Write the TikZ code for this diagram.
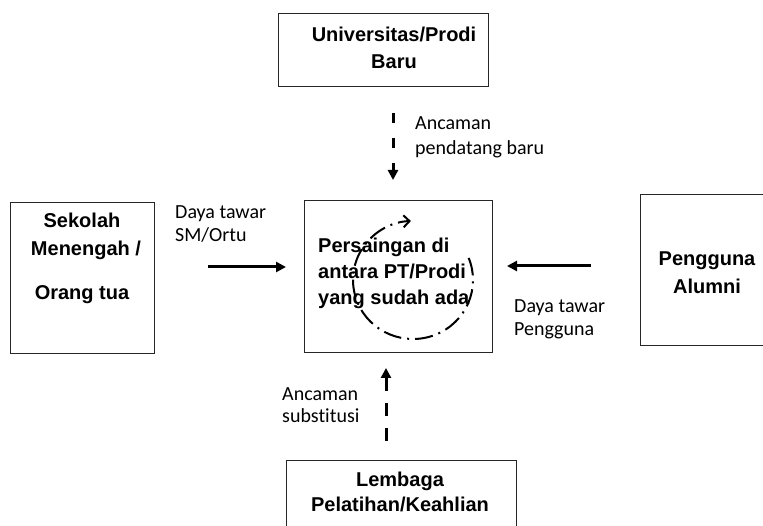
\documentclass[tikz,border=0pt]{standalone}
\usepackage{fontspec}
\setmainfont{Liberation Sans}
\newfontfamily\calib{Carlito}[Ligatures={NoCommon,NoContextual}]
\usetikzlibrary{arrows.meta}
\begin{document}
\begin{tikzpicture}[x=1pt,y=-1pt,
  box/.style={draw=black!85, line width=1.2pt, inner sep=0pt, anchor=north west},
  bt/.style={font=\bfseries\fontsize{20}{24}\selectfont, inner sep=0pt, anchor=base},
  bl/.style={bt, anchor=base west},
  lab/.style={font=\calib\fontsize{20}{24}\selectfont, inner sep=0pt, anchor=base west},
  big/.style={line width=3pt, -{Triangle[length=10pt,width=10pt]}},
  dsh/.style={big, dash pattern=on 10pt off 15pt},
  cyc/.style={line width=2pt, dash pattern=on 18pt off 6pt on 2pt off 6pt,
    -{Straight Barb[length=6pt,width=12pt]}}]
\clip (0,0) rectangle (763,526);
\fill[white] (0,0) rectangle (763,526);
% boxes
\node[box, minimum width=210pt, minimum height=73pt] (topbox) at (278,13) {};
\node[box, minimum width=144pt, minimum height=151pt] (leftbox) at (10,202) {};
\node[box, minimum width=188pt, minimum height=152pt] (centerbox) at (304,200) {};
\node[box, minimum width=140pt, minimum height=151pt] (rightbox) at (640,194) {};
\node[box, minimum width=230pt, minimum height=90pt] (botbox) at (286,460) {};
% box texts
\node[bt] (t1) at (394,42) {Universitas/Prodi};
\node[bt] (t2) at (394,69) {Baru};
\node[bt] (l1) at (82,228) {Sekolah};
\node[bt] (l2) at (86,256) {Menengah /};
\node[bt] (l3) at (82,300) {Orang tua};
\node[bt] (r1) at (707,266) {Pengguna};
\node[bt] (r2) at (707,294) {Alumni};
\node[bt] (b1) at (400,486) {Lembaga};
\node[bt] (b2) at (400,511) {Pelatihan/Keahlian};
\node[bl] (c1) at (318,253) {Persaingan di};
\node[bl] (c2) at (318,279) {antara PT/Prodi};
\node[bl] (c3) at (318,305) {yang sudah ada};
% labels
\node[lab] (la1) at (415,130) {Ancaman};
\node[lab] (la2) at (415,155) {pendatang baru};
\node[lab] (lb1) at (175,219) {Daya tawar};
\node[lab] (lb2) at (175,242) {SM/Ortu};
\node[lab] (lc1) at (514,313) {Daya tawar};
\node[lab] (lc2) at (514,336) {Pengguna};
\node[lab] (ld1) at (282,400) {Ancaman};
\node[lab] (ld2) at (282,422) {substitusi};
% arrow ends
\coordinate (aTs) at (393,113);
\coordinate (aTe) at (393,180);
\coordinate (aBs) at (386,441);
\coordinate (aBe) at (386,368);
\coordinate (aLs) at (208,267);
\coordinate (aLe) at (286,267);
\coordinate (aRs) at (591,266);
\coordinate (aRe) at (507,266);
\draw[dsh] (aTs) -- (aTe);
\draw[big, dash pattern=on 13pt off 12pt] (aBs) -- (aBe);
\draw[big] (aLs) -- (aLe);
\draw[big] (aRs) -- (aRe);
% cycle
\coordinate (cc) at (413,280);
\draw[cyc] ([shift={(-22:60 and 59)}]cc) arc[start angle=-22, end angle=268, x radius=60, y radius=59];
\end{tikzpicture}
\end{document}
